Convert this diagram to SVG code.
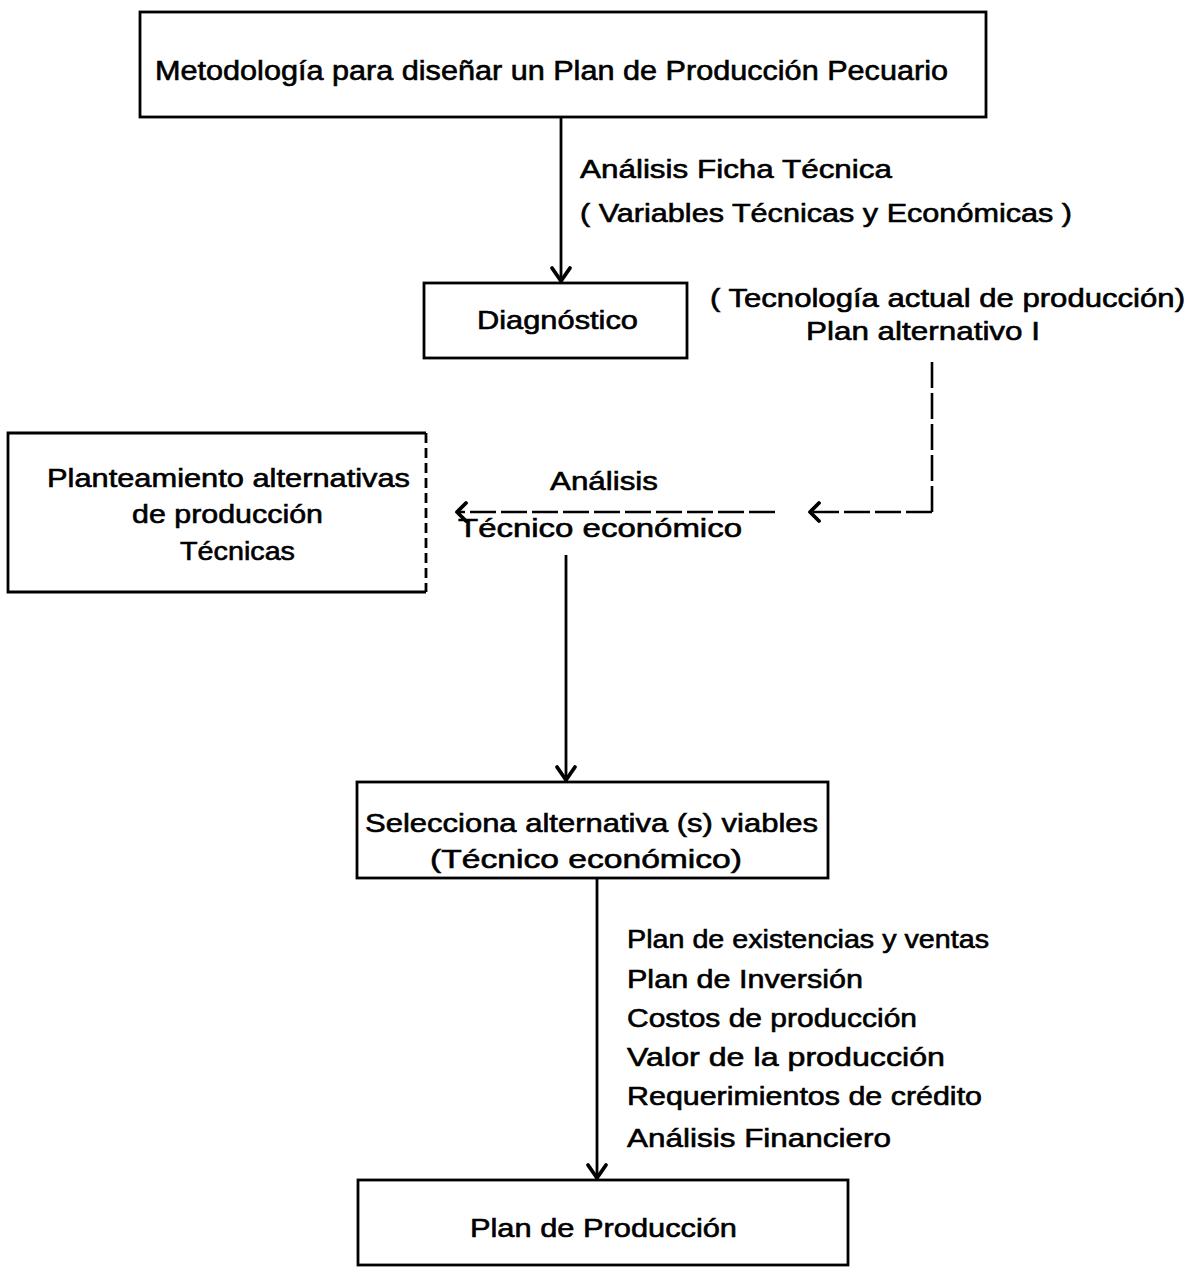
<svg xmlns="http://www.w3.org/2000/svg" width="1196" height="1274" viewBox="0 0 1196 1274">
<style>
  .box{fill:none;stroke:#000;stroke-width:2.8}
  .t{font-family:"Liberation Sans","DejaVu Sans",sans-serif;font-size:26px;fill:#000;stroke:#000;stroke-width:0.6}
  .ln{stroke:#000;stroke-width:2.8;fill:none}
  .dash{stroke:#000;stroke-width:2.6;fill:none;stroke-dasharray:26 5}
  .head{stroke:#000;stroke-width:3.8;fill:none;stroke-linecap:round;stroke-linejoin:round}
</style>
<rect width="1196" height="1274" fill="#fff"/>
<g id="connectors">
  <line class="ln" x1="561" y1="117" x2="561" y2="282"/>
  <polyline class="head" points="552,268 561,281 570,268"/>
  <line class="dash" x1="932" y1="362" x2="932" y2="512"/>
  <line class="dash" x1="932" y1="512" x2="810" y2="512"/>
  <polyline class="head" points="819,503 810,512 819,521"/>
  <line class="dash" x1="775" y1="512" x2="457" y2="512"/>
  <polyline class="head" points="466,503 457,512 466,521"/>
  <line class="ln" x1="566" y1="555" x2="566" y2="781"/>
  <polyline class="head" points="557,767 566,780 575,767"/>
  <line class="ln" x1="597" y1="878" x2="597" y2="1179"/>
  <polyline class="head" points="588,1165 597,1178 606,1165"/>
</g>
<g id="n-metodologia">
  <rect class="box" x="140" y="12" width="846" height="105"/>
  <text class="t" x="155" y="80" textLength="793" lengthAdjust="spacingAndGlyphs" style="font-size:27px">Metodología para diseñar un Plan de Producción Pecuario</text>
</g>
<g id="l-ficha">
  <text class="t" x="580" y="178" textLength="312" lengthAdjust="spacingAndGlyphs">Análisis Ficha Técnica</text>
  <text class="t" x="580" y="222" textLength="492" lengthAdjust="spacingAndGlyphs">( Variables Técnicas y Económicas )</text>
</g>
<g id="n-diagnostico">
  <rect class="box" x="424" y="283" width="263" height="75"/>
  <text class="t" x="477" y="329" textLength="161" lengthAdjust="spacingAndGlyphs">Diagnóstico</text>
</g>
<g id="l-tecnologia">
  <text class="t" x="710" y="307" textLength="475" lengthAdjust="spacingAndGlyphs">( Tecnología actual de producción)</text>
  <text class="t" x="806" y="340" textLength="234" lengthAdjust="spacingAndGlyphs">Plan alternativo I</text>
</g>
<g id="n-planteamiento">
  <path class="box" d="M426,433 H8 V592 H426"/>
  <line class="box" x1="426" y1="433" x2="426" y2="592" style="stroke-dasharray:10 5"/>
  <text class="t" x="47" y="487" textLength="363" lengthAdjust="spacingAndGlyphs">Planteamiento alternativas</text>
  <text class="t" x="132" y="523" textLength="191" lengthAdjust="spacingAndGlyphs">de producción</text>
  <text class="t" x="180" y="560" textLength="115" lengthAdjust="spacingAndGlyphs">Técnicas</text>
</g>
<g id="l-analisis">
  <text class="t" x="550" y="490" textLength="108" lengthAdjust="spacingAndGlyphs">Análisis</text>
  <text class="t" x="458" y="537" textLength="284" lengthAdjust="spacingAndGlyphs">Técnico económico</text>
</g>
<g id="n-selecciona">
  <rect class="box" x="357" y="782" width="471" height="96"/>
  <text class="t" x="365" y="832" textLength="453" lengthAdjust="spacingAndGlyphs">Selecciona alternativa (s) viables</text>
  <text class="t" x="430" y="868" textLength="312" lengthAdjust="spacingAndGlyphs">(Técnico económico)</text>
</g>
<g id="l-planes">
  <text class="t" x="627" y="948" textLength="362" lengthAdjust="spacingAndGlyphs">Plan de existencias y ventas</text>
  <text class="t" x="627" y="988" textLength="236" lengthAdjust="spacingAndGlyphs">Plan de Inversión</text>
  <text class="t" x="627" y="1027" textLength="290" lengthAdjust="spacingAndGlyphs">Costos de producción</text>
  <text class="t" x="627" y="1066" textLength="318" lengthAdjust="spacingAndGlyphs">Valor de la producción</text>
  <text class="t" x="627" y="1105" textLength="355" lengthAdjust="spacingAndGlyphs">Requerimientos de crédito</text>
  <text class="t" x="627" y="1147" textLength="264" lengthAdjust="spacingAndGlyphs">Análisis Financiero</text>
</g>
<g id="n-plan-produccion">
  <rect class="box" x="358" y="1180" width="490" height="85"/>
  <text class="t" x="470" y="1237" textLength="267" lengthAdjust="spacingAndGlyphs">Plan de Producción</text>
</g>
</svg>
